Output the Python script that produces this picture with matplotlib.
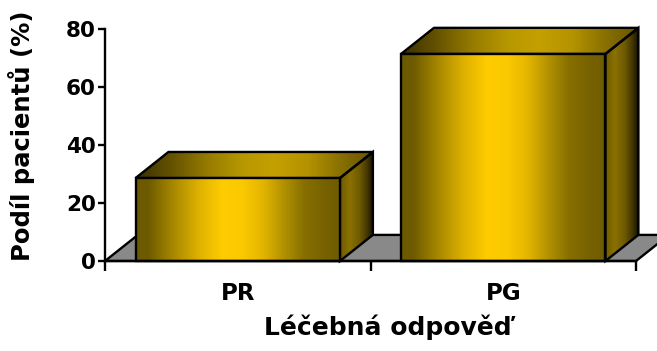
import numpy as np
import matplotlib
matplotlib.use("Agg")
import matplotlib.pyplot as plt
from matplotlib.patches import Polygon
from matplotlib.colors import LinearSegmentedColormap

# Data
categories = ["PR", "PG"]
values = [28.6, 71.4]
y_ticks = [0, 20, 40, 60, 80]
y_label = "Podíl pacientů (%)"
x_label = "Léčebná odpověď"

# 3D look: bar width and depth offset (x in category units, y in value units)
bar_width = 0.77
depth_dx = 0.124
depth_dy = 9.0

front_stops = [(0.0, "#6b5900"), (0.06, "#6e5b00"), (0.15, "#9a7d00"), (0.3, "#dcb000"),
               (0.42, "#ffcc00"), (0.52, "#fbc900"), (0.62, "#e3b500"), (0.72, "#b39200"),
               (0.82, "#877000"), (0.92, "#776200"), (1.0, "#6e5c00")]
top_stops = [(0.0, "#3a2f00"), (0.15, "#655300"), (0.3, "#967b00"), (0.45, "#b89800"),
             (0.58, "#c4a000"), (0.72, "#b59300"), (0.85, "#8c7200"), (1.0, "#665300")]
side_stops = [(0.0, "#6e5a00"), (0.3, "#8a7100"), (0.6, "#6e5a00"), (0.8, "#4a3c00"),
              (1.0, "#1a1500")]
floor_color = "#898989"
edge_lw = 1.7

plt.rcParams["font.family"] = ["DejaVu Sans"]
plt.rcParams["font.weight"] = "bold"

fig = plt.figure(figsize=(6.57, 3.51), dpi=100)
ax = fig.add_axes([105 / 657, 90 / 351, 552 / 657, 246.5 / 351])
ax.patch.set_alpha(0)


def shaded_face(verts, stops, z):
    poly = Polygon(verts, closed=True, facecolor="none", edgecolor="black",
                   lw=edge_lw, joinstyle="miter", zorder=z + 0.1, clip_on=False)
    ax.add_patch(poly)
    xs = [v[0] for v in verts]
    ys = [v[1] for v in verts]
    cmap = LinearSegmentedColormap.from_list("face", stops)
    img = ax.imshow(np.linspace(0, 1, 512)[None, :], cmap=cmap,
                    extent=(min(xs), max(xs), min(ys), max(ys)),
                    aspect="auto", origin="lower", interpolation="bilinear",
                    zorder=z)
    img.set_clip_path(poly)
    img.set_clip_on(True)
    return poly


n = len(categories)
# Floor plane
floor = Polygon([(-0.5, 0), (n - 0.5, 0), (n - 0.5 + depth_dx, depth_dy),
                 (-0.5 + depth_dx, depth_dy)], closed=True, facecolor=floor_color,
                edgecolor="black", lw=edge_lw, zorder=1, clip_on=False)
ax.add_patch(floor)

# Bars
for i, v in enumerate(values):
    x0 = i - bar_width / 2
    x1 = i + bar_width / 2
    side = [(x1, 0), (x1 + depth_dx, depth_dy), (x1 + depth_dx, v + depth_dy), (x1, v)]
    top = [(x0, v), (x1, v), (x1 + depth_dx, v + depth_dy), (x0 + depth_dx, v + depth_dy)]
    front = [(x0, 0), (x1, 0), (x1, v), (x0, v)]
    shaded_face(side, side_stops, 3)
    shaded_face(top, top_stops, 3)
    shaded_face(front, front_stops, 4)

ax.set_xlim(-0.5, -0.5 + 552 / 265.5)
ax.set_ylim(0, 85)

# Axes styling
for s in ["top", "right"]:
    ax.spines[s].set_visible(False)
ax.spines["left"].set_bounds(0, 80)
ax.spines["bottom"].set_bounds(-0.5, n - 0.5)
ax.spines["left"].set_linewidth(1.7)
ax.spines["bottom"].set_linewidth(1.7)
ax.spines["left"].set_zorder(6)
ax.spines["bottom"].set_zorder(6)

ax.set_yticks(y_ticks)
ax.set_yticklabels([str(t) for t in y_ticks], fontsize=15.5, fontweight="bold")
ax.tick_params(axis="y", direction="out", length=5, width=1.7, pad=1.5)

ax.set_xticks([i - 0.5 for i in range(n + 1)])
ax.set_xticklabels([""] * (n + 1))
ax.tick_params(axis="x", which="major", direction="out", length=7, width=1.7)
ax.set_xticks(range(n), minor=True)
ax.set_xticklabels(categories, minor=True, fontsize=16.5, fontweight="bold")
ax.tick_params(axis="x", which="minor", length=0, pad=15)

fig.text(388 / 657, (351 - 335) / 351, x_label, ha="center", va="baseline",
         fontsize=18, fontweight="bold")
fig.text(22 / 657, (351 - 136) / 351, y_label, ha="center", va="center",
         rotation=90, fontsize=17.5, fontweight="bold")

fig.savefig("out.png", dpi=100)
